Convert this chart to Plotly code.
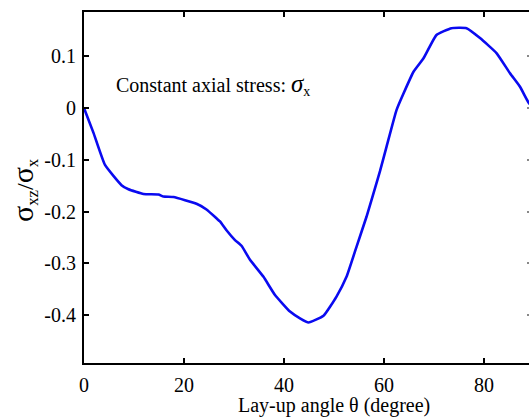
import plotly.graph_objects as go

# Lay-up angle (degrees) and normalised interlaminar shear stress sigma_xz / sigma_x
theta = [0, 1.9, 4.2, 7.5, 8.9, 11.9, 14.9, 15.9, 17.9, 22.5, 24.5, 26.5, 27.2,
         28.5, 30.2, 31.5, 33.2, 35.9, 38.2, 41.2, 43.2, 44.9, 47.9, 50.5, 52.5,
         54.5, 56.5, 58.5, 59.2, 60.5, 62.5, 63.9, 65.9, 67.9, 70.5, 73.5, 76.5,
         79.2, 82.5, 85.2, 87.2, 89.0, 90.0]
stress_ratio = [0.0, -0.048, -0.110, -0.149, -0.157, -0.166, -0.167, -0.171, -0.172,
                -0.185, -0.196, -0.213, -0.219, -0.236, -0.255, -0.266, -0.293,
                -0.326, -0.361, -0.393, -0.406, -0.414, -0.401, -0.364, -0.326,
                -0.268, -0.210, -0.145, -0.122, -0.075, -0.004, 0.028, 0.070,
                0.096, 0.141, 0.154, 0.154, 0.135, 0.106, 0.067, 0.041, 0.009, 0.0]

x_ticks = [0, 20, 40, 60, 80]
y_ticks = [0.1, 0, -0.1, -0.2, -0.3, -0.4]
y_tick_text = ["0.1", "0", "-0.1", "-0.2", "-0.3", "-0.4"]

SERIF = "Liberation Serif"


def serif(size):
    return dict(family=SERIF, size=size, color="black")


fig = go.Figure()
fig.add_trace(go.Scatter(x=theta, y=stress_ratio, mode="lines",
                         line=dict(color="#0a0af0", width=2.6, shape="spline",
                                   smoothing=0.4),
                         showlegend=False))
# invisible trace carrying the right-hand tick marks
fig.add_trace(go.Scatter(x=[None], y=[None], yaxis="y2", showlegend=False))

fig.update_layout(
    width=529, height=417,
    margin=dict(l=84, r=0, t=12, b=54),
    paper_bgcolor="white", plot_bgcolor="white",
    font=serif(20),
    xaxis=dict(range=[0, 89], tickvals=x_ticks, ticks="inside", ticklen=5,
               tickwidth=2, tickcolor="black", showline=True, linecolor="black",
               linewidth=2, mirror="ticks", showgrid=False, zeroline=False,
               ticklabelstandoff=3, tickfont=serif(20)),
    yaxis=dict(range=[-0.4923, 0.1853], tickvals=y_ticks, ticktext=y_tick_text,
               ticks="inside", ticklen=5, tickwidth=2, tickcolor="black",
               showline=True, linecolor="black", linewidth=2, mirror=False,
               showgrid=False, zeroline=False, ticklabelstandoff=2,
               tickfont=serif(20)),
    yaxis2=dict(range=[-0.4923, 0.1853], tickvals=y_ticks, overlaying="y",
                side="right", ticks="inside", ticklen=2, tickwidth=2,
                tickcolor="#888888", showticklabels=False, showline=False,
                showgrid=False, zeroline=False),
)

# position annotations in pixel terms of the paper area
W, H = 529, 417
ml, mt, mb = 84, 12, 54
pw, ph = W - ml, H - mt - mb


def px(x):
    return (x - ml) / pw


def py(y):
    return (H - mb - y) / ph


fig.add_annotation(text="Constant axial stress: "
                        "<span style='font-size:25px'><i>σ</i></span><sub>x</sub>",
                   x=px(114), y=py(84), xref="paper", yref="paper",
                   xanchor="left", yanchor="middle", showarrow=False,
                   font=serif(20))
fig.add_annotation(text="Lay-up angle θ (degree)", x=px(334), y=py(405),
                   xref="paper", yref="paper", xanchor="center", yanchor="middle",
                   showarrow=False, font=serif(20))
fig.add_annotation(text="<span style='font-size:30px'>σ</span><sub>xz</sub>/"
                        "<span style='font-size:30px'>σ</span><sub>x</sub>",
                   x=px(24), y=py(190),
                   xref="paper", yref="paper", xanchor="center", yanchor="middle",
                   textangle=-90, showarrow=False, font=serif(24))

fig.write_html("out.html")
